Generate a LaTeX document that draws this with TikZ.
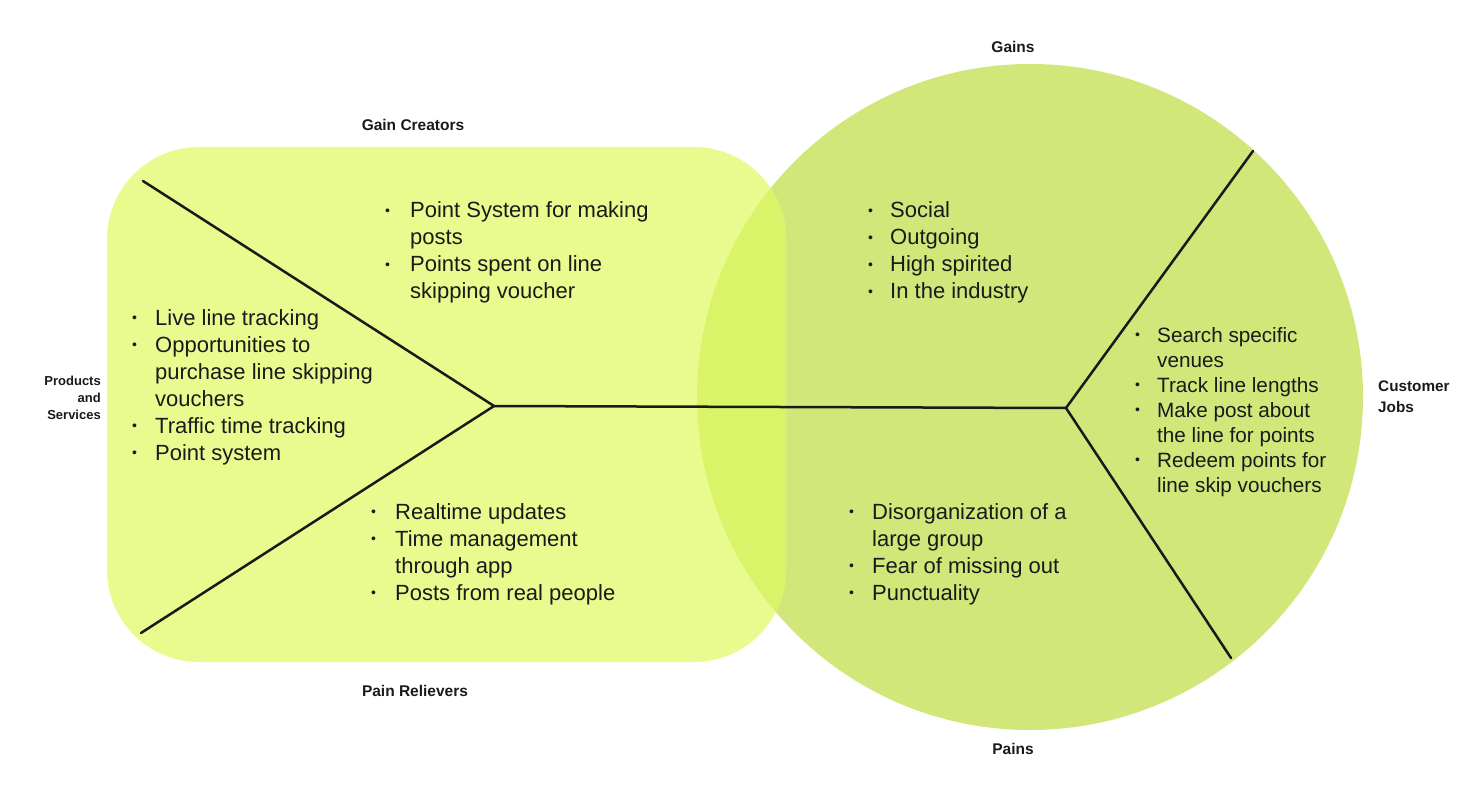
\documentclass[tikz,border=0pt]{standalone}
\usepackage{fontspec}
\setmainfont{Liberation Sans}
\usepackage{array}
\definecolor{rectfill}{HTML}{E9FB8E}
\definecolor{circfill}{HTML}{D1E77A}
\definecolor{overfill}{HTML}{DAF46A}
\definecolor{ink}{HTML}{1A1A1A}
\newcommand{\bul}{\raisebox{0.22ex}{\fontsize{14}{14}\selectfont\textbullet}}
\newcommand{\blist}[2][23pt]{\begin{tabular}[t]{@{}p{#1}@{}l@{}}#2\end{tabular}}
\tikzset{
  listtext/.style={inner sep=0pt, anchor=base west, text=ink, font=\fontsize{22}{27}\selectfont},
  smalllist/.style={inner sep=0pt, anchor=base west, text=ink, font=\fontsize{20.7}{25}\selectfont},
  lbl/.style={inner sep=0pt, text=ink, font=\fontsize{15.5}{17}\selectfont\bfseries},
  spine/.style={draw=ink, line width=2.5pt, line cap=round, line join=round}
}
\begin{document}
\begin{tikzpicture}[x=1pt, y=-1pt]
\useasboundingbox (0,0) rectangle (1480,786);
% shapes
\fill[circfill] (1030,397) circle (333);
\fill[rectfill] [rounded corners=92pt] (107,147) rectangle (786,662);
\begin{scope}
  \clip (1030,397) circle (333);
  \fill[overfill] [rounded corners=92pt] (107,147) rectangle (786,662);
\end{scope}
% connectors
\coordinate (pL1) at (143,181);
\coordinate (pL2) at (141,633);
\coordinate (hubL) at (494,406);
\coordinate (hubR) at (1066,408);
\coordinate (pR1) at (1253,151);
\coordinate (pR2) at (1231,658);
\draw[spine] (pL1) -- (hubL) -- (pL2);
\draw[spine] (hubL) -- (hubR);
\draw[spine] (pR1) -- (hubR) -- (pR2);
% labels
\node[lbl] (gains) at (1013,47) {Gains};
\node[lbl] (gaincr) at (413,125) {Gain Creators};
\node[lbl] (painrel) at (415,691) {Pain Relievers};
\node[lbl] (pains) at (1013,749) {Pains};
\node[lbl, anchor=east, align=right, font=\fontsize{13}{17}\selectfont\bfseries] (prod) at (101,398) {Products\\and\\Services};
\node[lbl, anchor=west, align=left, font=\fontsize{15.3}{21}\selectfont\bfseries] (cjobs) at (1378,397) {Customer\\Jobs};
% lists
\node[listtext] (gclist) at (385,218) {\blist[25pt]{\bul & Point System for making\\ & posts\\ \bul & Points spent on line\\ & skipping voucher}};
\node[listtext] (pslist) at (132,325) {\blist{\bul & Live line tracking\\ \bul & Opportunities to\\ & purchase line skipping\\ & vouchers\\ \bul & Traffic time tracking\\ \bul & Point system}};
\node[listtext] (prlist) at (371,519) {\blist[24pt]{\bul & Realtime updates\\ \bul & Time management\\ & through app\\ \bul & Posts from real people}};
\node[listtext] (gnlist) at (868,218) {\blist[22pt]{\bul & Social\\ \bul & Outgoing\\ \bul & High spirited\\ \bul & In the industry}};
\node[listtext] (pnlist) at (849,519) {\blist{\bul & Disorganization of a\\ & large group\\ \bul & Fear of missing out\\ \bul & Punctuality}};
\node[smalllist] (cjlist) at (1135,342) {\blist[22pt]{\bul & Search specific\\ & venues\\ \bul & Track line lengths\\ \bul & Make post about\\ & the line for points\\ \bul & Redeem points for\\ & line skip vouchers}};
\end{tikzpicture}
\end{document}
